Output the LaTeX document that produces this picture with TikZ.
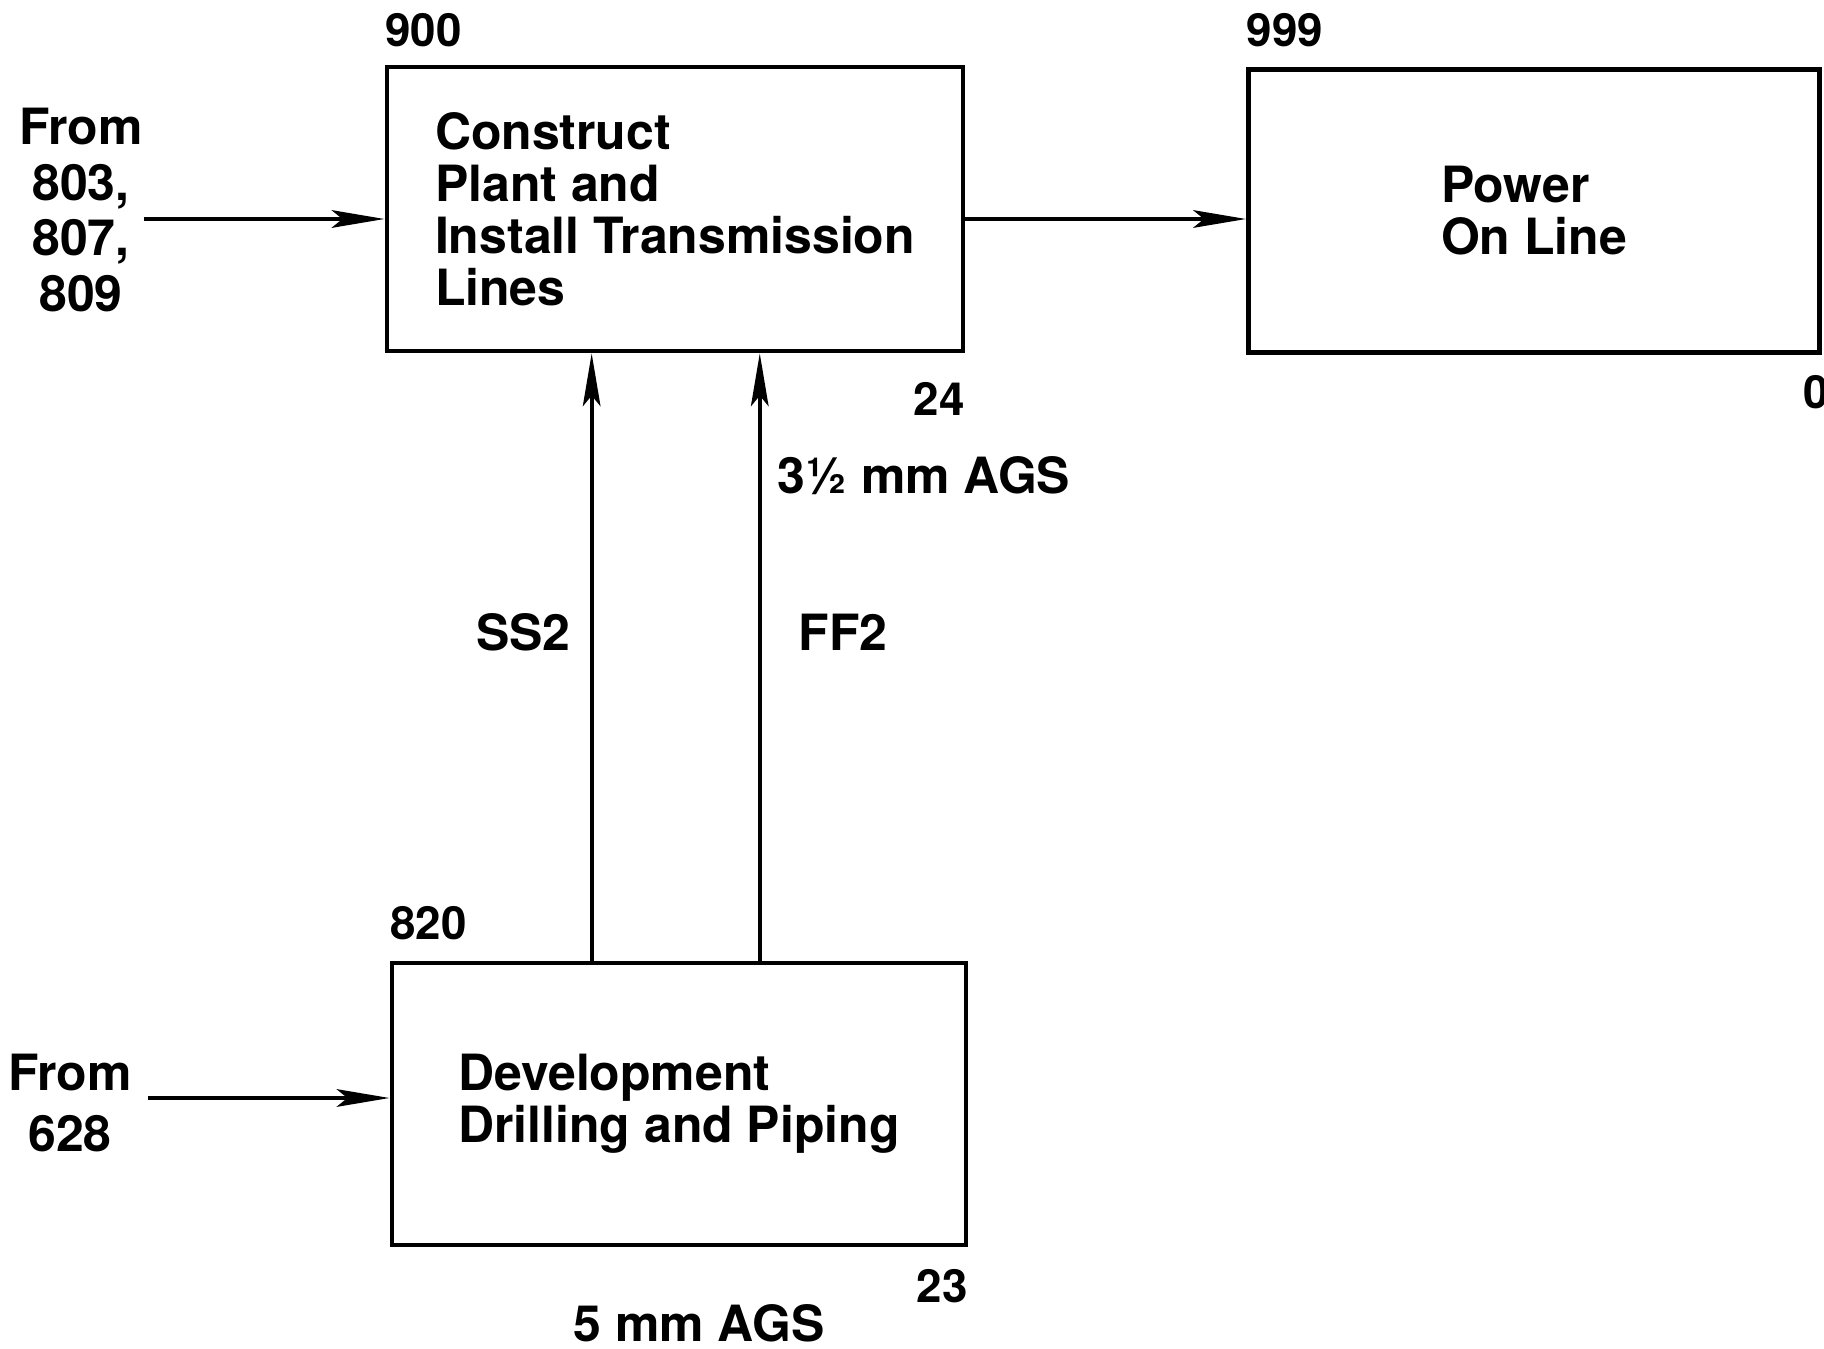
\documentclass[tikz,border=0pt]{standalone}
\usepackage{fontspec}
\setmainfont{TeX Gyre Heros}
\usetikzlibrary{arrows.meta,positioning,calc}

\begin{document}
\begin{tikzpicture}[
  x=0.01cm,
  y=-0.01cm,
  box/.style={draw, line width=1.3pt, align=left, inner sep=0pt, font=\bfseries\fontsize{14.2}{14.8}\selectfont},
  num/.style={inner sep=0pt, font=\bfseries\fontsize{13}{13.5}\selectfont},
  lab/.style={inner sep=0pt, font=\bfseries\fontsize{14.2}{15}\selectfont},
  arr/.style={line width=1.2pt, -{Stealth[length=15pt,width=5pt,inset=3pt]}}
]
\useasboundingbox (0,0) rectangle (1824,1349);

\node[box, minimum width=5.76cm, minimum height=2.84cm] (c900) at (675,209) {Construct\\Plant and\\Install Transmission\\Lines};
\node[box, minimum width=5.71cm, minimum height=2.83cm] (c999) at (1534,211) {Power\\On Line};
\node[box, minimum width=5.74cm, minimum height=2.82cm] (c820) at (679,1104) {Development\\Drilling and Piping};

\node[num, anchor=south west] (n900) at ([yshift=0.17cm]c900.north west) {900};
\node[num, anchor=south west] (n999) at ([yshift=0.19cm]c999.north west) {999};
\node[num, anchor=south west] (n820) at ([yshift=0.2cm]c820.north west) {820};
\node[num, anchor=north east] (n24) at ([yshift=-0.28cm]c900.south east) {24};
\node[num, anchor=north west] (n0) at (1803,375) {0};
\node[num, anchor=north east] (n23) at ([yshift=-0.21cm]c820.south east) {23};

\node[lab, align=center, font=\bfseries\fontsize{14.2}{15.8}\selectfont] (from1) at (81,210) {From\\803,\\807,\\809};
\node[lab, align=center, font=\bfseries\fontsize{14.2}{17.2}\selectfont] (from2) at (70,1103) {From\\628};

\draw[arr] ([yshift=-0.09cm]from1.east) -- ([yshift=-0.09cm]from1.east -| c900.west);
\draw[arr] ([yshift=-0.1cm]c900.east) -- ([yshift=-0.1cm]c900.east -| c999.west);
\draw[arr] ([xshift=0.15cm,yshift=0.05cm]from2.east) -- ([yshift=0.05cm]from2.east -| c820.west);

\coordinate (ss) at ([xshift=2.02cm]c820.north west);
\coordinate (ff) at ([xshift=3.7cm]c820.north west);
\draw[arr] (ss) -- (ss |- c900.south) node[lab, pos=0.54, left=0.19cm] (lss) {SS2};
\draw[arr] (ff) -- (ff |- c900.south) node[lab, pos=0.54, right=0.37cm] (lff) {FF2};

\node[lab, anchor=west] (ags1) at (777,476) {3½ mm AGS};
\node[lab] (ags2) at (699,1323) {5 mm AGS};
\end{tikzpicture}
\end{document}
